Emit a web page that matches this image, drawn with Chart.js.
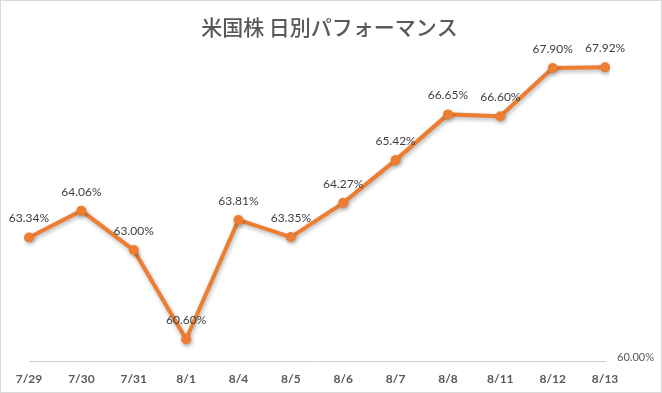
<!DOCTYPE html>
<html>
<head>
<meta charset="utf-8">
<script src="https://cdn.jsdelivr.net/npm/chart.js@4"></script>
<style>
  body { margin: 0; background: #fff; }
  #wrap { width: 662px; height: 393px; box-sizing: border-box; border: 1px solid #d9d9d9; position: relative; }
</style>
</head>
<body>
<div id="wrap"><canvas id="perf-chart"></canvas></div>
<script>
const dates = ['7/29', '7/30', '7/31', '8/1', '8/4', '8/5', '8/6', '8/7', '8/8', '8/11', '8/12', '8/13'];
const perf = [63.34, 64.06, 63.00, 60.60, 63.81, 63.35, 64.27, 65.42, 66.65, 66.60, 67.90, 67.92];
const yMin = 60;
const yMax = 68;

// labels above each point (no datalabels plugin available)
const pointLabels = {
    id: 'pointLabels',
    afterDatasetsDraw(chart) {
        const c = chart.ctx;
        const meta = chart.getDatasetMeta(0);
        c.save();
        c.font = '12px Lato, "Liberation Sans", sans-serif';
        c.fillStyle = '#404040';
        c.textAlign = 'center';
        c.textBaseline = 'middle';
        meta.data.forEach((pt, i) => {
            c.fillText(perf[i].toFixed(2) + '%', pt.x, pt.y - 19);
        });
        c.restore();
    }
};

// soft shadow under the line
const lineShadow = {
    id: 'lineShadow',
    beforeDatasetsDraw(chart) {
        const c = chart.ctx;
        c.save();
        c.shadowColor = 'rgba(0,0,0,0.3)';
        c.shadowBlur = 4;
        c.shadowOffsetX = 1;
        c.shadowOffsetY = 2;
    },
    afterDatasetsDraw(chart) {
        chart.ctx.restore();
    }
};

const ctx = document.getElementById('perf-chart').getContext('2d');
const perfChart = new Chart(ctx, {
    type: 'line',
    data: {
        labels: dates,
        datasets: [{
            data: perf,
            borderColor: '#ED7D31',
            backgroundColor: '#ED7D31',
            borderWidth: 4,
            pointRadius: 5,
            pointHoverRadius: 5,
            pointBorderWidth: 0,
            tension: 0
        }]
    },
    options: {
        responsive: true,
        maintainAspectRatio: false,
        animation: false,
        layout: { padding: { left: 0, right: 3, top: 10, bottom: 4 } },
        plugins: {
            legend: { display: false },
            tooltip: { enabled: false },
            title: {
                display: true,
                text: '米国株 日別パフォーマンス',
                color: '#595959',
                font: { family: '"Noto Sans CJK JP", sans-serif', size: 21, weight: '500' },
                padding: { top: 3, bottom: 25 }
            }
        },
        scales: {
            x: {
                grid: { display: false },
                border: { display: true, color: '#d0d0d0', width: 1 },
                ticks: {
                    color: '#595959',
                    font: { family: 'Lato, "Liberation Sans", sans-serif', size: 12, weight: 'bold' },
                    padding: 2,
                    maxRotation: 0
                }
            },
            // empty left gutter so the title stays centred on the whole chart
            gutter: {
                position: 'left',
                grid: { display: false },
                border: { display: false },
                ticks: { display: false },
                afterFit: (s) => { s.width = 28; }
            },
            y: {
                position: 'right',
                min: yMin,
                max: yMax,
                grid: { display: false },
                border: { display: false },
                ticks: {
                    stepSize: 1,
                    color: '#595959',
                    font: { family: 'Lato, "Liberation Sans", sans-serif', size: 11 },
                    padding: 4,
                    labelOffset: -4,
                    callback: (v) => v === yMin ? yMin.toFixed(2) + '%' : ''
                }
            }
        }
    },
    plugins: [lineShadow, pointLabels]
});
</script>
</body>
</html>
